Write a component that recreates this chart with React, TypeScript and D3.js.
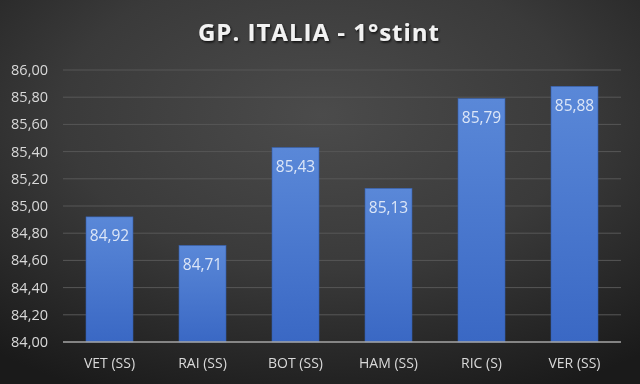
import React from "react";
import * as d3 from "d3";

const categories = ["VET (SS)", "RAI (SS)", "BOT (SS)", "HAM (SS)", "RIC (S)", "VER (SS)"];
const values = [84.92, 84.71, 85.43, 85.13, 85.79, 85.88];
const yTicks = [84.0, 84.2, 84.4, 84.6, 84.8, 85.0, 85.2, 85.4, 85.6, 85.8, 86.0];
const title = "GP. ITALIA - 1°stint";

const W = 640, H = 384;
const fmt = (v: number) => v.toFixed(2).replace(".", ",");

export default function App() {
  const x = d3.scaleBand<string>().domain(categories).range([63, 621]).paddingInner(0.495).paddingOuter(0.2475);
  const y = d3.scaleLinear().domain([84, 86]).range([342, 70]);
  const font = "'Open Sans', 'Noto Sans', sans-serif";
  return (
    <div style={{ position: "fixed", left: 0, top: 0, width: W, height: H }}>
      <svg width={W} height={H} viewBox={`0 0 ${W} ${H}`} style={{ display: "block" }}>
        <defs>
          <radialGradient id="bg" cx="0.5" cy="0.3" r="0.8" fx="0.5" fy="0.3">
            <stop offset="0" stopColor="#4b4b4b" />
            <stop offset="0.5" stopColor="#3a3a3a" />
            <stop offset="1" stopColor="#1a1a1a" />
          </radialGradient>
          <linearGradient id="bar" x1="0" y1="0" x2="0" y2="1">
            <stop offset="0" stopColor="#5a88d8" />
            <stop offset="1" stopColor="#3a68c4" />
          </linearGradient>
          <filter id="sh" x="-10%" y="-30%" width="120%" height="160%">
            <feDropShadow dx="1" dy="1.5" stdDeviation="1.2" floodColor="#000" floodOpacity="0.8" />
          </filter>
        </defs>
        <rect x={0} y={0} width={W} height={H} fill="url(#bg)" />
        <text x={319} y={41} textAnchor="middle" fill="#f2f2f2" fontFamily={font} fontWeight={700} fontSize={24} filter="url(#sh)" letterSpacing={1}>
          {title}
        </text>
        {yTicks.map((t) => (
          <g key={t}>
            {t > 84 && <line x1={63} x2={621} y1={y(t)} y2={y(t)} stroke="#575757" strokeWidth={1} />}
            <text x={48} y={y(t)} dy="0.35em" textAnchor="end" fill="#d9d9d9" fontFamily={font} fontSize={14.5}>
              {fmt(t)}
            </text>
          </g>
        ))}
        {categories.map((c, i) => (
          <g key={c}>
            <rect x={x(c)} y={y(values[i])} width={x.bandwidth()} height={y(84) - y(values[i])} fill="url(#bar)" stroke="#3560b0" strokeWidth={0.6} />
            <text x={(x(c) as number) + x.bandwidth() / 2} y={y(values[i]) + 19} dy="0.35em" textAnchor="middle" fill="#dce6f7" fontFamily={font} fontSize={15.5}>
              {fmt(values[i])}
            </text>
            <text x={(x(c) as number) + x.bandwidth() / 2} y={363} dy="0.35em" textAnchor="middle" fill="#d9d9d9" fontFamily={font} fontSize={14}>
              {c}
            </text>
          </g>
        ))}
        <line x1={63} x2={621} y1={y(84)} y2={y(84)} stroke="#a6a6a6" strokeWidth={1.5} />
      </svg>
    </div>
  );
}
